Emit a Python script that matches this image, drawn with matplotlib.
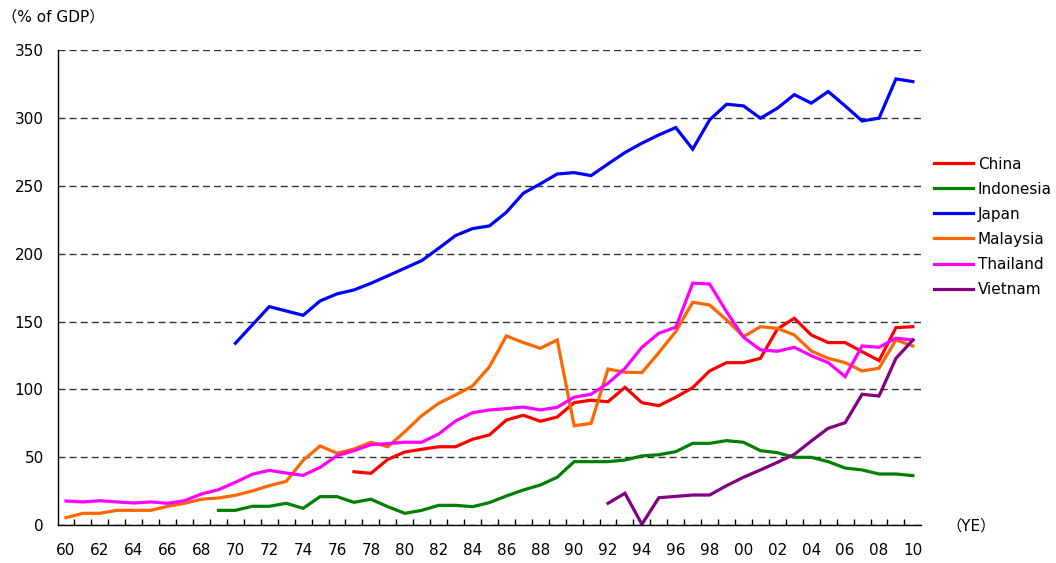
import matplotlib
matplotlib.use("Agg")
import matplotlib.pyplot as plt
import numpy as np

plt.rcParams['font.family'] = ['DejaVu Sans', 'Noto Sans CJK JP']

years = list(range(1960, 2011))

china = [None] * 17 + [
    39.3, 38.1, 48.4, 53.8, 55.8, 57.7, 57.7, 63.2, 66.4,            # 77-85
    77.4, 80.9, 76.5, 79.6, 90.2, 92.0, 90.9, 101.5, 90.2, 88.0,     # 86-95
    94.2, 101.3, 113.6, 119.7, 119.7, 122.9, 144.5, 152.4, 140.1,    # 96-04
    134.5, 134.5, 127.8, 121.2, 145.5, 146.2]                        # 05-10

indonesia = [None] * 9 + [
    10.8, 10.8, 13.8, 13.8, 16.0, 12.3, 20.9, 20.9, 16.7, 19.0,      # 69-78
    13.5, 8.6, 10.8, 14.5, 14.5, 13.5, 16.5, 21.4, 25.8, 29.5,       # 79-88
    35.2, 46.7, 46.7, 46.7, 47.9, 50.9, 51.8, 54.1, 60.2, 60.2,      # 89-98
    62.2, 61.0, 54.8, 53.3, 49.9, 49.9, 46.7, 42.0, 40.6, 37.6,      # 99-08
    37.6, 36.4]

japan = [None] * 10 + [
    134.0, 147.5, 161.0, 157.8, 154.6, 165.2, 170.4, 173.3, 178.2,  # 70-78
    183.7, 189.3, 194.9, 204.0, 213.4, 218.5, 220.5, 230.6, 244.6,  # 79-87
    251.5, 258.8, 259.8, 257.6, 266.2, 274.6, 281.5, 287.6, 293.0,  # 88-96
    277.1, 298.7, 310.2, 309.0, 299.9, 307.3, 317.3, 311.0, 319.6,  # 97-05
    309.0, 297.9, 299.9, 328.9, 326.9]

malaysia = [
    5.4, 8.6, 8.6, 10.8, 10.8, 10.8, 13.8, 16.0, 19.0, 19.9,         # 60-69
    21.9, 25.1, 29.0, 32.2, 47.7, 58.3, 52.9, 56.0, 61.0, 57.7,      # 70-79
    68.8, 80.6, 89.7, 95.9, 102.5, 116.7, 139.4, 134.5, 130.3, 136.4,  # 80-89
    73.2, 74.9, 115.0, 112.6, 112.4, 127.1, 142.6, 164.2, 162.2, 151.2,  # 90-99
    138.9, 146.2, 145.0, 140.1, 128.3, 122.9, 119.7, 113.6, 115.6, 136.4,  # 00-09
    132.0]

thailand = [
    17.7, 17.0, 17.9, 17.0, 16.2, 17.0, 16.0, 17.9, 22.9, 26.0,      # 60-69
    31.5, 37.4, 40.3, 38.3, 36.6, 42.5, 51.1, 54.8, 59.2, 60.0,      # 70-79
    61.0, 61.0, 67.1, 76.7, 82.8, 84.8, 85.8, 87.0, 84.8, 86.8,      # 80-89
    94.2, 96.4, 104.5, 115.5, 131.0, 141.4, 145.8, 178.3, 177.7, 157.2,  # 90-99
    138.4, 129.1, 128.1, 131.0, 124.8, 119.7, 109.4, 132.0, 131.0, 137.7,  # 00-09
    136.4]

vietnam = [None] * 32 + [
    16.0, 23.4, 0.5, 20.1, 21.1, 22.1, 22.1, 29.0, 35.2, 40.6,       # 92-01
    46.2, 52.1, 61.9, 71.3, 75.4, 96.4, 95.1, 122.9, 136.4]          # 02-10

series = [
    ("China", china, "#FF0000"),
    ("Indonesia", indonesia, "#008000"),
    ("Japan", japan, "#0000FF"),
    ("Malaysia", malaysia, "#FF6600"),
    ("Thailand", thailand, "#FF00FF"),
    ("Vietnam", vietnam, "#800080"),
]

fig = plt.figure(figsize=(10.56, 5.63), dpi=100)
ax = fig.add_axes([0.0545, 0.0675, 0.818, 0.8432])

x = np.arange(len(years))
for name, vals, col in series:
    y = np.array([np.nan if v is None else v for v in vals], dtype=float)
    ax.plot(x, y, color=col, lw=2.3, label=name, solid_joinstyle="miter")

ax.set_xlim(-0.5, len(years) - 0.5)
ax.set_ylim(0, 350)
ax.set_yticks(range(0, 351, 50))
ax.yaxis.grid(True, linestyle=(0, (5, 3)), color="#333333", lw=1)
ax.set_axisbelow(True)

ax.set_xticks(x[::2])
ax.set_xticklabels([f"{yr % 100:02d}" for yr in years[::2]])
ax.set_xticks(x[:-1] + 0.5, minor=True)
ax.tick_params(axis="x", which="major", length=0, pad=13, labelsize=11)
ax.tick_params(axis="x", which="minor", direction="in", length=4, width=1)
ax.tick_params(axis="y", length=0, pad=10, labelsize=11)

for s in ("top", "right"):
    ax.spines[s].set_visible(False)
for s in ("left", "bottom"):
    ax.spines[s].set_color("black")
    ax.spines[s].set_linewidth(1)

fig.text(0.002, 0.969, "（% of GDP）", fontsize=11, va="center", ha="left")
fig.text(0.896, 0.066, "（YE）", fontsize=11, va="center", ha="left")

fig.legend(loc="upper left", bbox_to_anchor=(0.884, 0.722), frameon=False,
           fontsize=11, handlelength=2.6, handletextpad=0.3,
           labelspacing=0.66, borderpad=0, borderaxespad=0)

fig.savefig("out.png", dpi=100)
